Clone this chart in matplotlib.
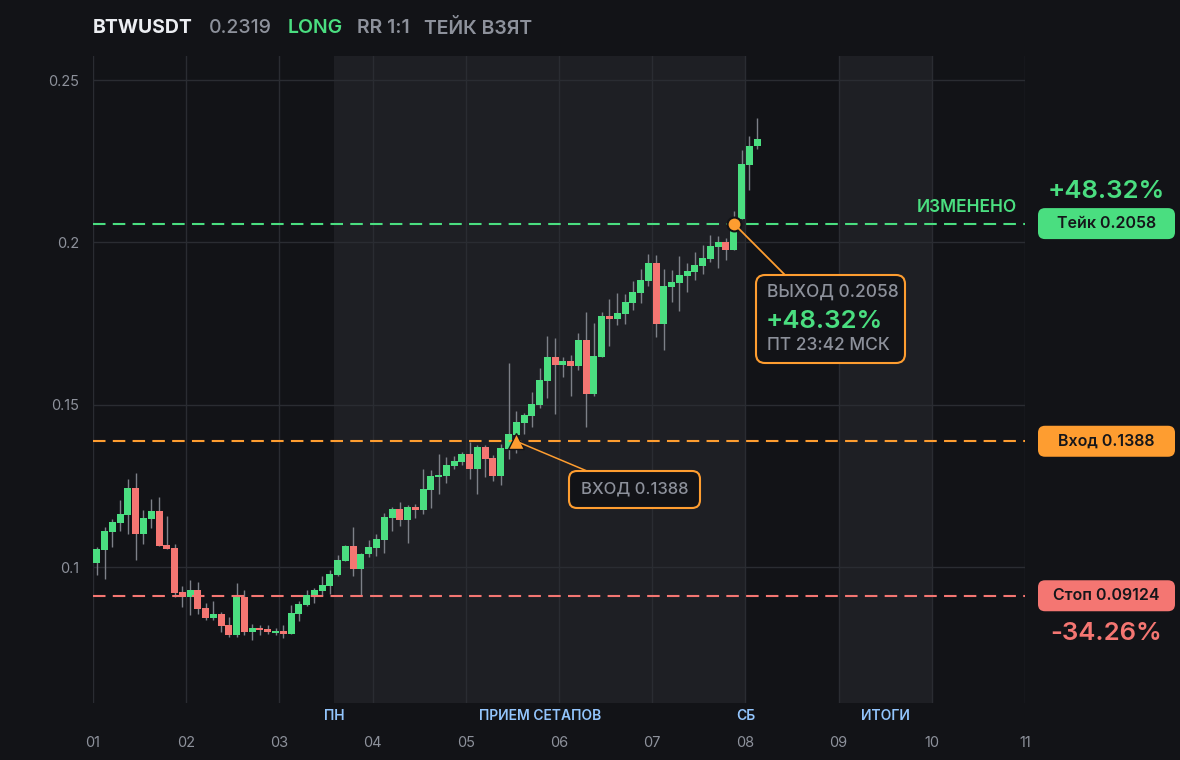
import matplotlib
matplotlib.use('Agg')
import matplotlib.pyplot as plt
import matplotlib.transforms as mtransforms
from matplotlib.patches import FancyBboxPatch
from matplotlib.lines import Line2D

plt.rcParams['font.family'] = ['Inter', 'DejaVu Sans']

################################ data (2h candles, BTWUSDT)
opens = [0.1014, 0.1054, 0.1110, 0.1137, 0.1162, 0.1244, 0.1104, 0.1150, 0.1173, 0.1069,
         0.1059, 0.0923, 0.0910, 0.0930, 0.0875, 0.0844, 0.0856, 0.0822, 0.0793, 0.0909,
         0.0801, 0.0813, 0.0810, 0.0798, 0.0804, 0.0795, 0.0856, 0.0884, 0.0912, 0.0927,
         0.0943, 0.0976, 0.1019, 0.1066, 0.0995, 0.1041, 0.1060, 0.1084, 0.1153, 0.1179,
         0.1147, 0.1185, 0.1176, 0.1238, 0.1278, 0.1281, 0.1312, 0.1324, 0.1349, 0.1302,
         0.1370, 0.1336, 0.1281, 0.1364, 0.1407, 0.1444, 0.1466, 0.1499, 0.1573, 0.1647,
         0.1622, 0.1635, 0.1619, 0.1699, 0.1533, 0.1647, 0.1773, 0.1764, 0.1779, 0.1813,
         0.1844, 0.1881, 0.1936, 0.1749, 0.1863, 0.1875, 0.1896, 0.1909, 0.1927, 0.1949,
         0.1986, 0.2001, 0.1976, 0.2072, 0.2238, 0.2296]
highs = [0.1062, 0.1124, 0.1148, 0.1206, 0.1272, 0.1290, 0.1176, 0.1210, 0.1216, 0.1158,
         0.1072, 0.0943, 0.0961, 0.0955, 0.0890, 0.0896, 0.0863, 0.0847, 0.0952, 0.0930,
         0.0826, 0.0823, 0.0823, 0.0813, 0.0823, 0.0884, 0.0896, 0.0930, 0.0936, 0.0973,
         0.0992, 0.1038, 0.1069, 0.1124, 0.1044, 0.1084, 0.1102, 0.1167, 0.1186, 0.1201,
         0.1191, 0.1195, 0.1302, 0.1299, 0.1349, 0.1339, 0.1342, 0.1355, 0.1385, 0.1376,
         0.1376, 0.1345, 0.1379, 0.1629, 0.1481, 0.1475, 0.1539, 0.1613, 0.1712, 0.1706,
         0.1647, 0.1653, 0.1721, 0.1786, 0.1752, 0.1786, 0.1826, 0.1844, 0.1841, 0.1881,
         0.1918, 0.1964, 0.1961, 0.1918, 0.1915, 0.1958, 0.1936, 0.1970, 0.1992, 0.2022,
         0.2019, 0.2013, 0.2096, 0.2284, 0.2327, 0.2383]
lows = [0.0976, 0.0965, 0.1061, 0.1113, 0.1104, 0.1024, 0.1073, 0.1122, 0.1066, 0.1055,
        0.0910, 0.0879, 0.0853, 0.0857, 0.0838, 0.0839, 0.0801, 0.0787, 0.0787, 0.0793,
        0.0776, 0.0793, 0.0795, 0.0792, 0.0783, 0.0795, 0.0835, 0.0881, 0.0890, 0.0912,
        0.0918, 0.0973, 0.1019, 0.0973, 0.0915, 0.1032, 0.1035, 0.1044, 0.1112, 0.1127,
        0.1075, 0.1152, 0.1164, 0.1182, 0.1226, 0.1259, 0.1302, 0.1315, 0.1272, 0.1226,
        0.1278, 0.1266, 0.1253, 0.1333, 0.1352, 0.1410, 0.1432, 0.1490, 0.1521, 0.1472,
        0.1586, 0.1527, 0.1607, 0.1432, 0.1527, 0.1647, 0.1681, 0.1746, 0.1749, 0.1792,
        0.1813, 0.1866, 0.1709, 0.1669, 0.1816, 0.1789, 0.1847, 0.1884, 0.1903, 0.1939,
        0.1921, 0.1946, 0.1976, 0.2072, 0.2161, 0.2287]
closes = [0.1056, 0.1112, 0.1139, 0.1164, 0.1244, 0.1104, 0.1152, 0.1173, 0.1067, 0.1057,
          0.0922, 0.0910, 0.0930, 0.0872, 0.0844, 0.0856, 0.0819, 0.0793, 0.0909, 0.0801,
          0.0813, 0.0807, 0.0801, 0.0804, 0.0795, 0.0859, 0.0887, 0.0915, 0.0930, 0.0946,
          0.0979, 0.1022, 0.1066, 0.0995, 0.1041, 0.1062, 0.1087, 0.1155, 0.1179, 0.1147,
          0.1185, 0.1176, 0.1241, 0.1281, 0.1284, 0.1315, 0.1327, 0.1349, 0.1302, 0.1370,
          0.1333, 0.1281, 0.1367, 0.1410, 0.1447, 0.1469, 0.1503, 0.1576, 0.1647, 0.1622,
          0.1635, 0.1619, 0.1699, 0.1533, 0.1650, 0.1773, 0.1764, 0.1782, 0.1816, 0.1847,
          0.1884, 0.1936, 0.1749, 0.1866, 0.1878, 0.1899, 0.1912, 0.1930, 0.1952, 0.1989,
          0.2001, 0.1976, 0.2038, 0.2241, 0.2296, 0.2319]

entry = 0.1388
take = 0.2058
stop = 0.09124
entry_idx = 54
exit_idx = 82
yticks = [0.1, 0.15, 0.2, 0.25]
ytick_labels = ['0.1', '0.15', '0.2', '0.25']
days = list(range(1, 12))
day_labels = ['%02d' % d for d in days]
week_band = (3.586, 8.0)
summary_band = (9.0, 10.0)

################################ colors
BG = '#121317'
BAND = '#1e1f24'
GRID = '#2a2c32'
GREEN = '#4ade80'
RED = '#f47672'
ORANGE = '#fe9d30'
GREY = '#8d919b'
BLUE = '#93c5fd'
WICK = '#7d8088'

W, H = 1180, 760
fig = plt.figure(figsize=(11.8, 7.6), dpi=100, facecolor=BG)
ax = fig.add_axes([93 / W, (H - 703) / H, 932 / W, 647 / H])
ax.set_facecolor(BG)
ax.set_xlim(1, 11)
ax.set_ylim(0.05823, 0.25739)
for s in ax.spines.values():
  s.set_visible(False)

ax.axvspan(*week_band, color=BAND, zorder=0, lw=0)
ax.axvspan(*summary_band, color=BAND, zorder=0, lw=0)

ax.set_xticks(days)
ax.set_xticklabels(day_labels)
ax.set_yticks(yticks)
ax.set_yticklabels(ytick_labels)
ax.tick_params(axis='both', length=0, colors=GREY, labelsize=10.5)
ax.tick_params(axis='x', pad=24)
ax.tick_params(axis='y', pad=10)
ax.grid(True, color=GRID, lw=1, zorder=0.5)
ax.set_axisbelow(True)

#candles
n = len(opens)
xs = [1 + (i + 0.5) / 12 for i in range(n)]
ax.vlines(xs, lows, highs, color=WICK, lw=1, zorder=2)
bottoms = [min(o, c) for o, c in zip(opens, closes)]
heights = [max(abs(c - o), 0.0006) for o, c in zip(opens, closes)]
cols = [GREEN if c >= o else RED for o, c in zip(opens, closes)]
ax.bar(xs, heights, bottom=bottoms, width=0.9 / 12, color=cols, zorder=3, lw=0)

#levels
dash = (0, (6, 3.5))
ax.axhline(take, color=GREEN, lw=1.5, ls=dash, zorder=4)
ax.axhline(entry, color=ORANGE, lw=1.5, ls=dash, zorder=4)
ax.axhline(stop, color=RED, lw=1.5, ls=dash, zorder=4)

ax.plot(xs[entry_idx], entry, marker='^', ms=11, color=ORANGE, mec=BG, mew=1, zorder=6)
ax.plot(xs[exit_idx], take, marker='o', ms=10, color=ORANGE, mec=BG, mew=1.5, zorder=6)

#bottom session labels
bt = mtransforms.blended_transform_factory(ax.transData, ax.transAxes)
lab_y = -13 / 647
for xv, s in [(week_band[0], 'ПН'), ((week_band[0] + week_band[1]) / 2, 'ПРИЕМ СЕТАПОВ'),
              (week_band[1], 'СБ'), ((summary_band[0] + summary_band[1]) / 2, 'ИТОГИ')]:
  ax.text(xv, lab_y, s, transform=bt, ha='center', va='center', color=BLUE,
          fontsize=10, fontweight='semibold', clip_on=False)

################################ overlays in pixel space
ident = mtransforms.IdentityTransform()

def ypix(price):
  return ax.transData.transform((1, price))[1]

def img(y):
  return H - y

def box(x0, x1, y0, y1, fc, ec='none', lw=0, r=7):
  p = FancyBboxPatch((x0, y0), x1 - x0, y1 - y0, boxstyle='round,pad=0,rounding_size=%d' % r,
                     fc=fc, ec=ec, lw=lw, transform=ident, zorder=10)
  fig.add_artist(p)

def tag(price, text, fc):
  yc = ypix(price)
  box(1038, 1175, yc - 15.5, yc + 15.5, fc)
  fig.text(1106.5, yc, text, transform=ident, ha='center', va='center', fontsize=11.5,
           fontweight='semibold', color='#15161a', zorder=11)

tag(take, 'Тейк 0.2058', GREEN)
tag(entry, 'Вход 0.1388', ORANGE)
tag(stop, 'Стоп 0.09124', RED)
fig.text(1106, img(192), '+48.32%', transform=ident, ha='center', va='center', fontsize=18.5,
         fontweight='semibold', color=GREEN)
fig.text(1106, img(633), '-34.26%', transform=ident, ha='center', va='center', fontsize=18.5,
         fontweight='semibold', color=RED)
fig.text(1017, img(208), 'ИЗМЕНЕНО', transform=ident, ha='right', va='center', fontsize=12.5,
         fontweight='semibold', color=GREEN)

#callout lines
ex, ey = ax.transData.transform((xs[exit_idx], take))
fig.add_artist(Line2D([ex, 785], [ey, img(275)], color=ORANGE, lw=1.3, transform=ident, zorder=9))
nx, ny = ax.transData.transform((xs[entry_idx], entry))
fig.add_artist(Line2D([nx, 587], [ny, img(471)], color=ORANGE, lw=1.1, transform=ident, zorder=9))

#exit callout
box(756, 905, img(363), img(275), BG, ORANGE, 1.5, 9)
fig.text(767, img(292), 'ВЫХОД 0.2058', transform=ident, ha='left', va='center', fontsize=12.5,
         fontweight='medium', color=GREY, zorder=11)
fig.text(766, img(321), '+48.32%', transform=ident, ha='left', va='center', fontsize=18.5,
         fontweight='semibold', color=GREEN, zorder=11)
fig.text(767, img(346), 'ПТ 23:42 МСК', transform=ident, ha='left', va='center', fontsize=12.5,
         fontweight='medium', color=GREY, zorder=11)

#entry callout
box(569, 700, img(508), img(471), BG, ORANGE, 1.5, 8)
fig.text(634.5, img(489), 'ВХОД 0.1388', transform=ident, ha='center', va='center', fontsize=12,
         fontweight='medium', color=GREY, zorder=11)

################################ header
hy = img(28)
fig.text(93, hy, 'BTWUSDT', transform=ident, ha='left', va='center', fontsize=14,
         fontweight='bold', color='#eceef2')
fig.text(209, hy, '0.2319', transform=ident, ha='left', va='center', fontsize=14,
         fontweight='medium', color=GREY)
fig.text(288, hy, 'LONG', transform=ident, ha='left', va='center', fontsize=14,
         fontweight='semibold', color=GREEN)
fig.text(357, hy, 'RR 1:1', transform=ident, ha='left', va='center', fontsize=14,
         fontweight='semibold', color=GREY)
fig.text(424, hy, 'ТЕЙК ВЗЯТ', transform=ident, ha='left', va='center', fontsize=14,
         fontweight='semibold', color=GREY)

fig.savefig('out.png', dpi=100, facecolor=BG)
